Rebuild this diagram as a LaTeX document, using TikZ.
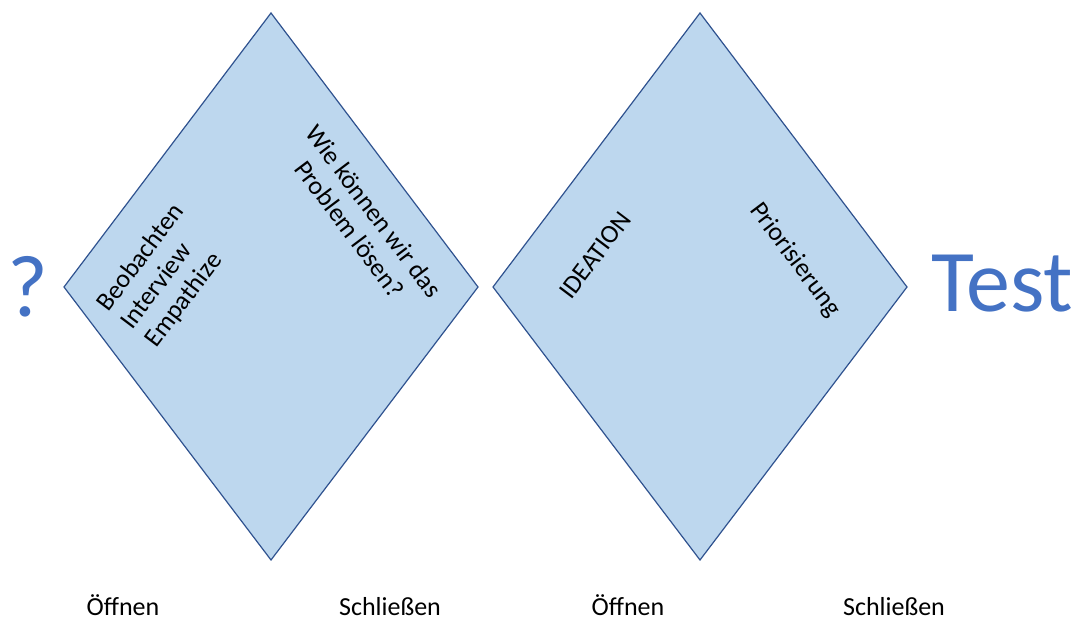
\documentclass[tikz,border=0pt]{standalone}
\usepackage{fontspec}
\setmainfont{Carlito}
\definecolor{diafill}{RGB}{189,215,238}
\definecolor{diadraw}{RGB}{47,82,143}
\definecolor{bigblue}{RGB}{68,114,196}
\tikzset{
  phase/.style={fill=diafill, draw=diadraw, line width=1.2pt, line join=miter},
  inside/.style={font=\fontsize{26}{30}\selectfont, align=center},
  below label/.style={font=\fontsize{26}{30}\selectfont, inner sep=0pt, anchor=base},
  big/.style={font=\fontsize{88}{100}\selectfont, text=bigblue}
}
\begin{document}
\begin{tikzpicture}[x=1pt, y=1pt]
      \useasboundingbox (0, 0) rectangle (1082, 621);
      % the two diamonds
      \coordinate (l1) at (64, 334);  \coordinate (t1) at (271, 608);
      \coordinate (r1) at (478, 334); \coordinate (b1) at (271, 61);
      \coordinate (l2) at (493, 334); \coordinate (t2) at (700, 608);
      \coordinate (r2) at (907, 334); \coordinate (b2) at (700, 61);
      \draw[phase] (l1) -- (t1) -- (r1) -- (b1) -- cycle;
      \draw[phase] (l2) -- (t2) -- (r2) -- (b2) -- cycle;
      % texts inside
      \draw (165, 345) node (beob) [inside, rotate=53, align=left] {Beobachten\\Interview\\Empathize}
            (362, 401) node (wie) [inside, rotate=-53] {Wie k\"onnen wir das\\Problem l\"osen?}
            (595, 366) node (idea) [inside, rotate=53] {IDEATION}
            (795, 361) node (prio) [inside, rotate=-53] {Priorisierung};
      % labels below
      \draw (123, 5) node (open1) [below label] {\"Offnen}
            (390, 5) node (close1) [below label] {Schlie\ss en}
            (628, 5) node (open2) [below label] {\"Offnen}
            (894, 5) node (close2) [below label] {Schlie\ss en};
      \draw (28, 334) node (question) [big] {?}
            (1002, 337) node (test) [big] {Test};
\end{tikzpicture}
\end{document}
